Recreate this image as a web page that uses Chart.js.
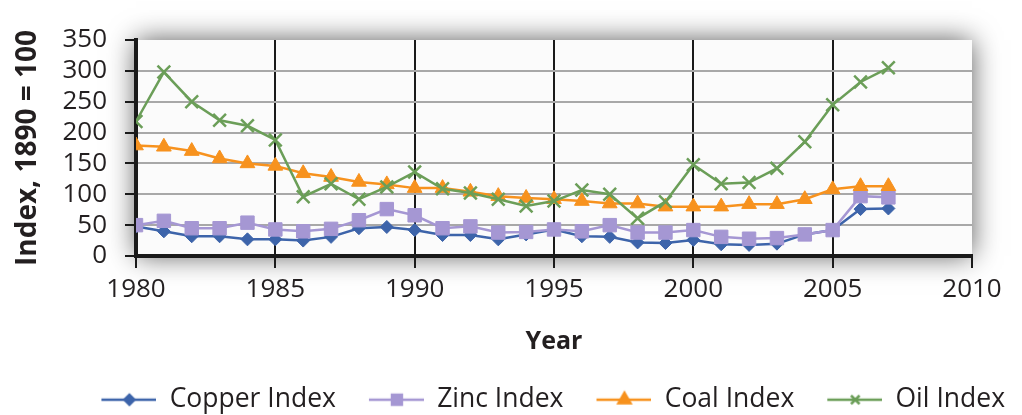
<!DOCTYPE html>
<html>
<head>
<meta charset="utf-8">
<script src="https://cdn.jsdelivr.net/npm/chart.js@4.4.0/dist/chart.umd.min.js"></script>
<style>
  html, body { margin: 0; padding: 0; background: #fff; }
  #wrap { width: 1022px; height: 415px; }
</style>
</head>
<body>
<div id="wrap"><canvas id="chart"></canvas></div>
<script>
// données (indice, 1890 = 100)
var years = [1980, 1981, 1982, 1983, 1984, 1985, 1986, 1987, 1988, 1989,
             1990, 1991, 1992, 1993, 1994, 1995, 1996, 1997, 1998, 1999,
             2000, 2001, 2002, 2003, 2004, 2005, 2006, 2007];
var copperIndex = [48, 40, 32, 32, 27, 27, 25, 31, 45, 47, 42, 34, 34, 27, 35, 43, 32, 31, 22, 21, 26, 19, 18, 20, 35, 42, 76, 77];
var zincIndex   = [50, 57, 45, 45, 54, 43, 40, 44, 58, 76, 66, 45, 48, 38, 39, 43, 40, 50, 38, 38, 42, 31, 28, 29, 35, 42, 97, 95];
var coalIndex   = [179, 177, 170, 158, 150, 146, 134, 128, 120, 116, 110, 110, 104, 97, 94, 92, 89, 85, 85, 80, 80, 80, 84, 84, 92, 108, 113, 113];
var oilIndex    = [218, 298, 250, 220, 211, 188, 96, 117, 92, 112, 136, 109, 102, 92, 81, 89, 107, 100, 61, 88, 148, 117, 119, 142, 185, 245, 282, 305];

var seriesNames = ['Copper Index', 'Zinc Index', 'Coal Index', 'Oil Index'];
var seriesColors = ['#3d64aa', '#a597d3', '#f7921e', '#6b9e58'];
var seriesMarkers = ['rectRot', 'rect', 'triangle', 'crossRot'];
var markerSizes = [6.5, 9.5, 8.5, 9];
var legendSizes = [5, 7, 7, 6];

var FONT = "'Open Sans', 'DejaVu Sans', sans-serif";
var INK = '#231f20';

function toPoints(values) {
  return values.map(function (v, i) { return { x: years[i], y: v }; });
}

// petite image "ligne + marqueur" pour la légende
function legendIcon(i) {
  var c = document.createElement('canvas');
  c.width = 85;
  c.height = 22;
  var ctx = c.getContext('2d');
  ctx.strokeStyle = seriesColors[i];
  ctx.fillStyle = seriesColors[i];
  ctx.lineWidth = 2.5;
  ctx.beginPath();
  ctx.moveTo(30, 11);
  ctx.lineTo(85, 11);
  ctx.stroke();
  Chart.helpers.drawPoint(ctx, {
    pointStyle: seriesMarkers[i],
    radius: legendSizes[i],
    rotation: 0,
    borderWidth: i === 3 ? 1.5 : 1
  }, 58, 11);
  return c;
}

// fond du graphique avec une ombre floue
var plotShadow = {
  id: 'plotShadow',
  beforeDraw: function (chart) {
    var a = chart.chartArea;
    var ctx = chart.ctx;
    ctx.save();
    ctx.shadowColor = 'rgba(0, 0, 0, 0.65)';
    ctx.shadowBlur = 26;
    ctx.fillStyle = '#fbfbfb';
    ctx.fillRect(a.left, a.top, a.right - a.left, a.bottom - a.top);
    ctx.restore();
  }
};

var datasets = seriesNames.map(function (name, i) {
  var values = [copperIndex, zincIndex, coalIndex, oilIndex][i];
  return {
    label: name,
    data: toPoints(values),
    borderColor: seriesColors[i],
    backgroundColor: seriesColors[i],
    borderWidth: 2.5,
    pointStyle: seriesMarkers[i],
    pointRadius: markerSizes[i],
    pointBorderWidth: i === 3 ? 2.5 : 1,
    pointBackgroundColor: seriesColors[i],
    pointBorderColor: seriesColors[i],
    tension: 0,
    order: 4 - i
  };
});

new Chart(document.getElementById('chart'), {
  type: 'line',
  data: { datasets: datasets },
  plugins: [plotShadow],
  options: {
    responsive: true,
    maintainAspectRatio: false,
    animation: false,
    layout: { padding: { top: 40, left: 0, right: 14, bottom: -8 } },
    plugins: {
      tooltip: { enabled: false },
      legend: {
        position: 'bottom',
        align: 'end',
        labels: {
          usePointStyle: true,
          pointStyleWidth: 85,
          padding: 3,
          color: INK,
          font: { family: FONT, size: 26.5 },
          generateLabels: function (chart) {
            return chart.data.datasets.map(function (ds, i) {
              return {
                text: ds.label,
                datasetIndex: i,
                pointStyle: legendIcon(i),
                fillStyle: ds.borderColor,
                strokeStyle: ds.borderColor,
                lineWidth: 0,
                fontColor: INK,
                hidden: false
              };
            });
          }
        }
      }
    },
    scales: {
      x: {
        type: 'linear',
        min: 1980,
        max: 2010,
        // hauteur calée pour que l'axe tombe à y = 256
        afterFit: function (scale) { scale.height = 423 - 256 - scale.chart.legend.height; },
        ticks: {
          stepSize: 5,
          autoSkip: false,
          maxRotation: 0,
          padding: 6,
          color: INK,
          font: { family: FONT, size: 26 },
          callback: function (v) { return String(v); }
        },
        grid: {
          color: function (c) { return c.tick && c.tick.value === 2010 ? 'rgba(0,0,0,0)' : '#1a1a1a'; },
          lineWidth: 2,
          tickLength: 12,
          tickColor: '#1a1a1a',
          tickWidth: 2
        },
        border: { color: '#1a1a1a', width: 4 },
        title: {
          display: true,
          text: 'Year',
          color: INK,
          font: { family: FONT, size: 25, weight: 'bold' },
          padding: { top: 0, bottom: 27 }
        }
      },
      y: {
        min: 0,
        max: 350,
        afterFit: function (scale) { scale.width = 136; },
        ticks: {
          stepSize: 50,
          autoSkip: false,
          padding: 18,
          color: INK,
          font: { family: FONT, size: 26 }
        },
        grid: {
          color: function (c) { return c.tick && c.tick.value === 350 ? 'rgba(0,0,0,0)' : '#a8a8a8'; },
          lineWidth: 2,
          tickLength: 11,
          tickColor: '#1a1a1a',
          tickWidth: 2
        },
        border: { color: '#1a1a1a', width: 4 },
        title: {
          display: true,
          text: 'Index, 1890 = 100',
          color: INK,
          font: { family: FONT, size: 28, weight: 'bold' },
          padding: { top: 11, bottom: 0 }
        }
      },
      yRight: {
        position: 'right',
        display: true,
        afterFit: function (scale) { scale.width = 36; },
        ticks: { display: false },
        grid: { display: false },
        border: { display: false }
      }
    }
  }
});
</script>
</body>
</html>
